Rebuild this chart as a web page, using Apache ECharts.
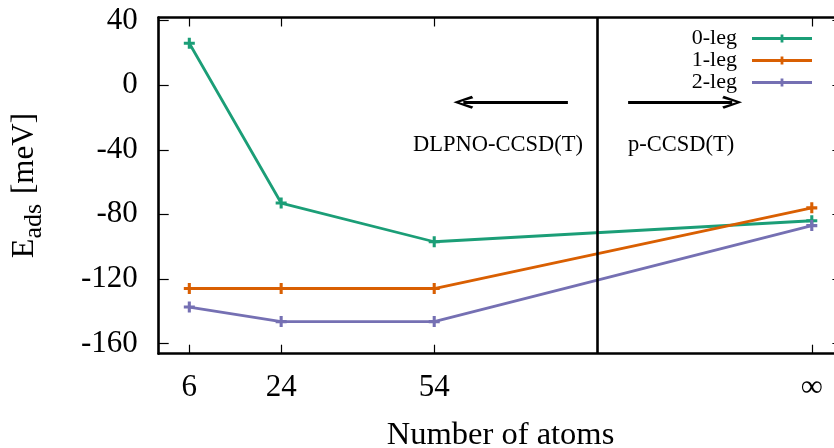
<!DOCTYPE html>
<html>
<head>
<meta charset="utf-8">
<script src="https://cdn.jsdelivr.net/npm/echarts@6/dist/echarts.min.js"></script>
<style>html,body{margin:0;padding:0;background:#fff}#c{width:834px;height:448px}</style>
</head>
<body>
<div id="c"></div>
<script>
// ---- data ----
const xPositions = [6, 24, 54, 128];          // 128 stands for "infinity" on the axis
const xTickLabels = ['6', '24', '54', '\u221E'];
const seriesNames = ['0-leg', '1-leg', '2-leg'];
const leg0 = [26, -73, -97, -84];
const leg1 = [-126, -126, -126, -76];
const leg2 = [-137.5, -146.5, -146.5, -87];
const yTicks = [-160, -120, -80, -40, 0, 40];
const dividerX = 86;
const leftArrow = [[80.2, -10.6], [59.7, -10.6]];
const rightArrow = [[92.0, -10.6], [112.4, -10.6]];
const annotations = [
  { text: 'DLPNO-CCSD(T)', at: [66.5, -37] },
  { text: 'p-CCSD(T)', at: [102.4, -37] }
];

const FONT = 'Liberation Serif';
const colors = ['#1b9e77', '#d95f02', '#7570b3'];
const plusPath = 'path://M3.6,0 L6.4,0 L6.4,3.6 L10,3.6 L10,6.4 L6.4,6.4 L6.4,10 L3.6,10 L3.6,6.4 L0,6.4 L0,3.6 L3.6,3.6 Z';
const legendIcon = 'path://M0,2.6 L60,2.6 L60,5.4 L0,5.4 Z M28.6,0 L31.4,0 L31.4,8 L28.6,8 Z';
const chevron = 'path://M6.5,0 L13,18 L10.6,19.5 L6.5,6 L2.4,19.5 L0,18 Z';

const chart = echarts.init(document.getElementById('c'), null, { renderer: 'canvas' });
const allData = [leg0, leg1, leg2];

function mkSeries(i) {
  return {
    name: seriesNames[i],
    type: 'line',
    data: xPositions.map((x, k) => [x, allData[i][k]]),
    symbol: plusPath,
    symbolSize: 11,
    showSymbol: true,
    lineStyle: { color: colors[i], width: 2.8 },
    itemStyle: { color: colors[i] },
    emphasis: { disabled: true },
    animation: false,
    z: 3
  };
}
const series = [mkSeries(0), mkSeries(1), mkSeries(2)];
series[0].markLine = {
  silent: true, symbol: 'none', animation: false,
  label: { show: false },
  lineStyle: { color: '#000', width: 2.6, type: 'solid' },
  data: [{ xAxis: dividerX }]
};
series[1].markLine = {
  silent: true, symbol: ['none', chevron], symbolSize: [13, 20], animation: false,
  label: { show: false },
  lineStyle: { color: '#000', width: 3, type: 'solid' },
  data: [[{ coord: leftArrow[0] }, { coord: leftArrow[1] }]]
};
series[2].markLine = {
  silent: true, symbol: ['none', chevron], symbolSize: [13, 20], animation: false,
  label: { show: false },
  lineStyle: { color: '#000', width: 3, type: 'solid' },
  data: [[{ coord: rightArrow[0] }, { coord: rightArrow[1] }]]
};

const axisLineStyle = { color: '#000', width: 2.6 };
const option = {
  animation: false,
  backgroundColor: '#fff',
  grid: { left: 158.7, top: 17.5, width: 683.7, height: 336.2, containLabel: false, outerBoundsMode: 'none' },
  legend: {
    orient: 'vertical', right: 17, top: 22.5, align: 'right',
    itemWidth: 60, itemHeight: 8, itemGap: 0, icon: legendIcon,
    selectedMode: false,
    textStyle: { fontFamily: FONT, fontSize: 22, color: '#000', lineHeight: 21, padding: [0, 10, 0, 0] },
    data: seriesNames
  },
  xAxis: [{
    type: 'value', min: 0, max: 134, position: 'bottom',
    axisLine: { show: true, onZero: false, lineStyle: axisLineStyle },
    axisTick: { show: true, inside: true, length: 9, lineStyle: { color: '#000', width: 1.2 }, customValues: xPositions },
    axisLabel: {
      show: true, customValues: xPositions, margin: 19,
      fontFamily: FONT, fontSize: 31, color: '#000',
      formatter: v => xTickLabels[xPositions.indexOf(v)]
    },
    splitLine: { show: false },
    name: 'Number of atoms', nameLocation: 'middle', nameGap: 65,
    nameTextStyle: { fontFamily: FONT, fontSize: 32.5, color: '#000' }
  }, {
    type: 'value', min: 0, max: 134, position: 'top',
    axisLine: { show: true, onZero: false, lineStyle: axisLineStyle },
    axisTick: { show: true, inside: true, length: 9, lineStyle: { color: '#000', width: 1.2 }, customValues: xPositions },
    axisLabel: { show: false },
    splitLine: { show: false }
  }],
  yAxis: [{
    type: 'value', min: -166.4, max: 42, position: 'left',
    axisLine: { show: true, onZero: false, lineStyle: axisLineStyle },
    axisTick: { show: true, inside: true, length: 10, lineStyle: { color: '#000', width: 1.2 }, customValues: yTicks },
    axisLabel: { show: true, customValues: yTicks, margin: 21, fontFamily: FONT, fontSize: 31, color: '#000' },
    splitLine: { show: false },
    name: '{e|E}{s|ads}{m|[meV]}', nameLocation: 'middle', nameRotate: 90, nameGap: 112,
    nameTextStyle: {
      color: '#000', fontFamily: FONT,
      rich: {
        e: { fontFamily: FONT, fontSize: 32, lineHeight: 44, color: '#000' },
        s: { fontFamily: FONT, fontSize: 26, lineHeight: 18, verticalAlign: 'bottom', color: '#000' },
        m: { fontFamily: FONT, fontSize: 31, lineHeight: 44, color: '#000', padding: [0, 0, 0, 10] }
      }
    }
  }, {
    type: 'value', min: -166.4, max: 42, position: 'right',
    axisLine: { show: true, onZero: false, lineStyle: axisLineStyle },
    axisTick: { show: true, inside: true, length: 10, lineStyle: { color: '#000', width: 1.2 }, customValues: yTicks },
    axisLabel: { show: false },
    splitLine: { show: false }
  }],
  series: series
};
chart.setOption(option);

const graphics = annotations.map(a => {
  const p = chart.convertToPixel({ xAxisIndex: 0, yAxisIndex: 0 }, a.at);
  return {
    type: 'text', x: p[0], y: p[1], silent: true,
    style: { text: a.text, fontFamily: FONT, fontSize: 22.5, fill: '#000', align: 'center', verticalAlign: 'middle' }
  };
});
chart.setOption({ graphic: graphics });
</script>
</body>
</html>
